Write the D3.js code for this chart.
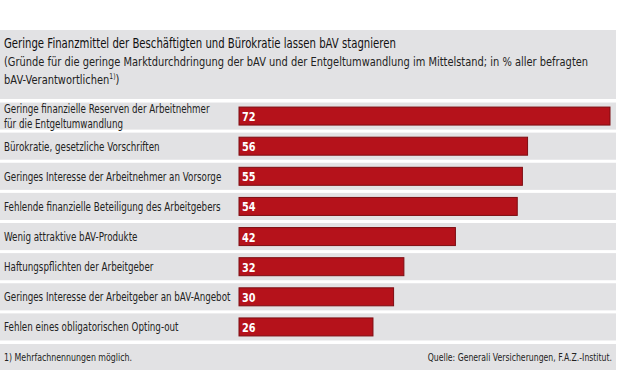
<!DOCTYPE html>
<html>
<head>
<meta charset="utf-8">
<script src="https://cdn.jsdelivr.net/npm/d3@7"></script>
<style>
  body { margin: 0; background: #fff; }
  svg text { font-family: "DejaVu Sans", "Liberation Sans", sans-serif; }
</style>
</head>
<body>
<div class="chart"></div>
<script>
// categories and values
const categories = [
  ["Geringe finanzielle Reserven der Arbeitnehmer", "für die Entgeltumwandlung"],
  ["Bürokratie, gesetzliche Vorschriften"],
  ["Geringes Interesse der Arbeitnehmer an Vorsorge"],
  ["Fehlende finanzielle Beteiligung des Arbeitgebers"],
  ["Wenig attraktive bAV-Produkte"],
  ["Haftungspflichten der Arbeitgeber"],
  ["Geringes Interesse der Arbeitgeber an bAV-Angebot"],
  ["Fehlen eines obligatorischen Opting-out"]
];
const values = [72, 56, 55, 54, 42, 32, 30, 26];

const titleText = "Geringe Finanzmittel der Beschäftigten und Bürokratie lassen bAV stagnieren";
const subtitleLines = [
  "(Gründe für die geringe Marktdurchdringung der bAV und der Entgeltumwandlung im Mittelstand; in % aller befragten",
  "bAV-Verantwortlichen"
];
const footnote = "1)  Mehrfachnennungen möglich.";
const source = "Quelle: Generali Versicherungen, F.A.Z.-Institut.";

const width = 621;
const height = 383;
const panelW = 616;
const grey = "#e2e2e4";
const red = "#b5121b";

// no condensed font installed, so squeeze text horizontally
function placeText(parent, x, y, sx) {
  return parent.append("text")
    .attr("transform", "translate(" + x + "," + y + ") scale(" + sx + ",1)");
}

const svg = d3.select(".chart")
  .append("svg")
  .attr("width", width)
  .attr("height", height);

// header panel
svg.append("rect")
  .attr("x", 0).attr("y", 30)
  .attr("width", panelW).attr("height", 69)
  .attr("fill", grey);

placeText(svg, 4, 48, 0.75)
  .attr("font-size", 13.5)
  .attr("fill", "#111")
  .text(titleText);

subtitleLines.forEach((line, i) => {
  const t = placeText(svg, 4, 66 + i * 18, 0.76)
    .attr("font-size", 13)
    .attr("fill", "#222")
    .text(line);
  if (i === subtitleLines.length - 1) {
    t.append("tspan").attr("font-size", 8).attr("dy", -5).text("1)");
    t.append("tspan").attr("dy", 5).text(")");
  }
});

// scales
const idx = categories.map((d, i) => i);
const y = d3.scaleBand()
  .domain(idx)
  .range([101, 342])
  .paddingInner(0.1)
  .paddingOuter(0.05);

const x = d3.scaleLinear()
  .domain([0, 72])
  .range([239, 610]);

const rows = svg.selectAll("g.row")
  .data(idx)
  .enter()
  .append("g")
  .attr("class", "row")
  .attr("transform", d => "translate(0," + y(d) + ")");

rows.append("rect")
  .attr("x", 0).attr("y", 0)
  .attr("width", panelW)
  .attr("height", y.bandwidth())
  .attr("fill", grey);

const barH = 18;
rows.append("rect")
  .attr("x", x(0))
  .attr("y", (y.bandwidth() - barH) / 2)
  .attr("width", d => x(values[d]) - x(0))
  .attr("height", barH)
  .attr("fill", red)
  .attr("stroke", "#7d0d12")
  .attr("stroke-width", 1);

rows.each(function(d) {
  const g = d3.select(this);
  const mid = y.bandwidth() / 2;
  placeText(g, x(0) + 3, mid + 5, 0.78)
    .attr("font-size", 12.5)
    .attr("font-weight", "bold")
    .attr("fill", "#fff")
    .text(values[d]);
  const lines = categories[d];
  lines.forEach((line, j) => {
    placeText(g, 4, mid + 4.5 + (j - (lines.length - 1) / 2) * 15, 0.7)
      .attr("font-size", 12.5)
      .attr("fill", "#222")
      .text(line);
  });
});

// footer panel
svg.append("rect")
  .attr("x", 0).attr("y", 344)
  .attr("width", panelW).attr("height", 26)
  .attr("fill", grey);

placeText(svg, 4, 361, 0.75)
  .attr("font-size", 10.5)
  .attr("fill", "#222")
  .text(footnote);

placeText(svg, 612, 361, 0.74)
  .attr("text-anchor", "end")
  .attr("font-size", 10.5)
  .attr("fill", "#222")
  .text(source);
</script>
</body>
</html>
